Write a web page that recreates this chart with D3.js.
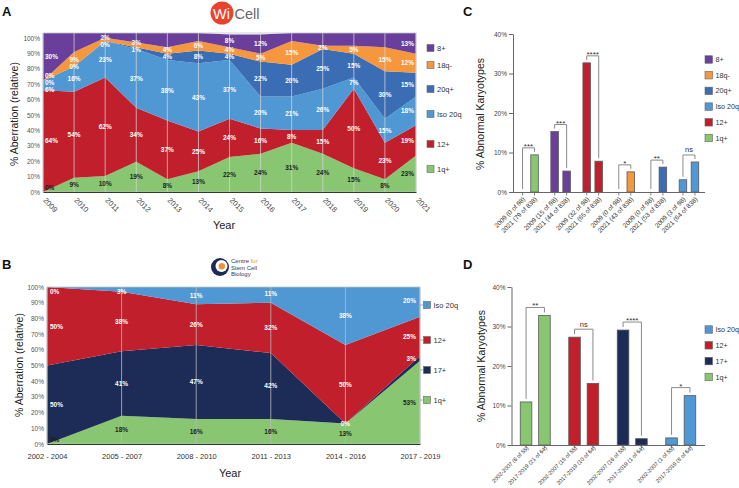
<!DOCTYPE html>
<html><head><meta charset="utf-8">
<script src="https://cdn.jsdelivr.net/npm/d3@7"></script>
<style>
body{margin:0;background:#fff}
svg{font-family:"Liberation Sans",Arial,sans-serif;display:block}
</style>
</head><body>
<svg id="c" width="739" height="488"></svg>
<script>
// ---------- DATA ----------
const yearsA = ["2009","2010","2011","2012","2013","2014","2015","2016","2017","2018","2019","2020","2021"];
const seriesA = ["1q+","12+","Iso 20q","20q+","18q-","8+"];
const a1q  = [0, 9,10,19, 8,13,22,24,31,24,15, 8,23];
const a12  = [64,54,62,34,37,25,24,16, 8,15,50,23,19];
const aIso = [6,16,23,37,38,43,37,20,21,26, 7,15,18];
const a20q = [0, 0, 0, 1, 4, 8, 4,22,20,25,15,30,15];
const a18q = [0, 9, 2, 3, 4, 6, 4, 5,15, 2, 5,15,12];
const a8   = [30,12, 3, 6, 9, 5, 8,12, 5, 8, 8, 9,13];
// 8+ value labels printed in the reference (others left blank there)
const a8Labels = ["30%","","","","","","8%","12%","","","","","13%"];
const legendA = ["8+","18q-","20q+","Iso 20q","12+","1q+"];

const periodsB = ["2002 - 2004","2005 - 2007","2008 - 2010","2011 - 2013","2014 - 2016","2017 - 2019"];
const seriesB = ["1q+","17+","12+","Iso 20q"];
const b1q  = [0,18,16,16,13,53];
const b17  = [50,41,47,42,0,3];
const b12  = [50,38,26,32,50,25];
const bIso = [0,3,11,11,38,20];
const legendB = ["Iso 20q","12+","17+","1q+"];

const groupsC = ["1q+","8+","12+","18q-","20q+","Iso 20q"];
const c2009 = [0,15.3,32.7,0,0,3.1];
const c2021 = [9.4,5.3,7.8,5.1,6.3,7.6];
const c2009n = [0,15,32,0,0,3];
const c2021n = [79,44,65,43,53,64];
const sigC = ["***","***","****","*","**","ns"];
const ticksCD = [0,10,20,30,40];
const legendC = ["8+","18q-","20q+","Iso 20q","12+","1q+"];

const groupsD = ["1q+","12+","17+","Iso 20q"];
const d0207 = [10.9,27.3,29.1,1.8];
const d1719 = [32.8,15.6,1.6,12.5];
const d0207n = [6,15,16,1];
const d1719n = [21,10,1,8];
const sigD = ["**","ns","****","*"];
const legendD = ["Iso 20q","12+","17+","1q+"];

const colors = {"8+":"#6a3f9c","18q-":"#f6963d","20q+":"#3b6db5","Iso 20q":"#4f98d4","12+":"#c11f2b","1q+":"#88c672","17+":"#1d2b57"};

// ---------- DRAW ----------
const svg = d3.select("#c");

function stackedPanel(cfg){
  const g = svg.append("g");
  const x = d3.scalePoint().domain(cfg.cats).range([cfg.x0,cfg.x1]);
  const y = d3.scaleLinear().domain([0,100]).range([cfg.y0,cfg.y1]);
  const rows = cfg.cats.map((c,i)=>{const r={cat:c}; cfg.keys.forEach((k,j)=>r[k]=cfg.vals[j][i]); return r;});
  const st = d3.stack().keys(cfg.keys)(rows);
  const cid = "clip"+cfg.id;
  svg.append("clipPath").attr("id",cid).append("rect")
    .attr("x",cfg.x0).attr("y",cfg.y1).attr("width",cfg.x1-cfg.x0).attr("height",cfg.y0-cfg.y1);
  const ar = d3.area().x(d=>x(d.data.cat)).y0(d=>y(d[0])).y1(d=>y(d[1]));
  g.append("g").attr("clip-path",`url(#${cid})`).selectAll("path").data(st).join("path")
    .attr("d",ar).attr("fill",d=>colors[d.key]);
  g.selectAll("line.grid").data(cfg.cats).join("line").attr("class","grid")
    .attr("x1",d=>x(d)).attr("x2",d=>x(d)).attr("y1",cfg.y1).attr("y2",cfg.y0)
    .attr("stroke",cfg.grid).attr("stroke-width",0.9);
  g.append("rect").attr("x",cfg.x0).attr("y",cfg.y1).attr("width",cfg.x1-cfg.x0).attr("height",cfg.y0-cfg.y1)
    .attr("fill","none").attr("stroke","#c4c4c4").attr("stroke-width",0.8);
  const n = cfg.cats.length;
  const labels = [];
  st.forEach((layer,li)=>layer.forEach((d,i)=>{
    const txt = cfg.labelText(layer.key,i,d.data[layer.key]);
    if(!txt) return;
    labels.push({i,li,key:layer.key,txt,y:y((d[0]+d[1])/2)});
  }));
  const gap = 7;
  d3.group(labels,d=>d.i).forEach(arr=>{
    arr.sort((a,b)=>(a.y-b.y)||(b.li-a.li));
    for(let it=0;it<40;it++){
      for(let k=0;k<arr.length-1;k++){
        const diff = arr[k+1].y-arr[k].y;
        if(diff<gap){const s=(gap-diff)/2; arr[k].y-=s; arr[k+1].y+=s;}
      }
      arr.forEach(a=>a.y=Math.max(cfg.y1+4.5,Math.min(cfg.y0-4,a.y)));
    }
  });
  g.selectAll("text.vl").data(labels).join("text").attr("class","vl")
    .attr("x",d=>x(cfg.cats[d.i])+(d.i===0?cfg.dxs:(d.i===n-1?cfg.dxe:0)))
    .attr("y",d=>d.y).attr("dy","0.35em")
    .attr("text-anchor",d=>d.i===0?"start":(d.i===n-1?"end":"middle"))
    .attr("font-size",6.5).attr("font-weight","bold")
    .attr("fill",d=>d.key==="1q+"?"#1e1e1e":"#ffffff").text(d=>d.txt);
  const ya = y.copy().range([cfg.y0,cfg.yTickTop]);
  const gy = g.append("g").attr("transform",`translate(${cfg.x0},0)`)
    .call(d3.axisLeft(ya).tickValues(d3.range(0,101,10)).tickFormat(d=>d+"%").tickSize(0).tickPadding(3));
  gy.select(".domain").remove();
  gy.selectAll("text").attr("font-size",6.5).attr("fill","#555").attr("font-family","Liberation Sans, Arial, sans-serif");
  const gx = g.append("g").attr("transform",`translate(0,${cfg.y0})`)
    .call(d3.axisBottom(x).tickSize(0).tickSizeOuter(0));
  gx.select(".domain").attr("stroke","#2f3a2f").attr("stroke-width",1.2);
  gx.selectAll("text").attr("font-family","Liberation Sans, Arial, sans-serif").attr("fill","#444");
  cfg.xText(gx.selectAll("text"));
  return {g,x,y};
}

stackedPanel({id:"A",cats:yearsA,keys:seriesA,vals:[a1q,a12,aIso,a20q,a18q,a8],
  labelText:(k,i,v)=>k==="8+"?a8Labels[i]:v+"%",
  x0:43,x1:416,y0:192,y1:33,yTickTop:38,grid:"rgba(215,215,215,0.8)",dxs:2,dxe:-2,
  xText:s=>s.attr("y",0).attr("dy","0.35em").attr("font-size",7.5).attr("text-anchor","start")
    .attr("transform","translate(1,7) rotate(45)")});
stackedPanel({id:"B",cats:periodsB,keys:seriesB,vals:[b1q,b17,b12,bIso],
  labelText:(k,i,v)=>v+"%",
  x0:47,x1:420,y0:444,y1:287,yTickTop:287,grid:"rgba(185,185,185,0.9)",dxs:3,dxe:-4,
  xText:s=>s.attr("y",12).attr("dy","0.35em").attr("font-size",7.5).attr("fill","#333")});

function legend(items, ys, x, size, fs){
  const g = svg.append("g");
  items.forEach((k,i)=>{
    g.append("rect").attr("x",x).attr("y",ys[i]-size/2).attr("width",size).attr("height",size)
      .attr("fill",colors[k]).attr("stroke","#666").attr("stroke-width",0.6);
    g.append("text").attr("x",x+size+3).attr("y",ys[i]).attr("dy","0.35em")
      .attr("font-size",fs).attr("fill","#333").text(k);
  });
}
legend(legendA,[48,65,89,114,144,169],427,7,7.5);
legend(legendB,[305,340,370,400],423.5,7,7.5);
[305,340,370,400].forEach(v=>svg.append("line").attr("x1",420).attr("x2",423).attr("y1",v).attr("y2",v).attr("stroke","#999").attr("stroke-width",0.8));

function text(x,y,t,opt){
  const s = svg.append("text").attr("x",x).attr("y",y).text(t);
  Object.entries(opt||{}).forEach(([k,v])=>s.attr(k,v));
  return s;
}
text(0,0,"% Aberration (relative)",{"font-size":10.5,fill:"#222","text-anchor":"middle",transform:"translate(18,114) rotate(-90)"});
text(0,0,"% Aberration (relative)",{"font-size":10.5,fill:"#222","text-anchor":"middle",transform:"translate(23,365) rotate(-90)"});
text(224,229,"Year",{"font-size":11,fill:"#222","text-anchor":"middle"});
text(230,477,"Year",{"font-size":11,fill:"#222","text-anchor":"middle"});
text(0,0,"% Abnormal Karyotypes",{"font-size":10.5,fill:"#222","text-anchor":"middle",transform:"translate(484,114) rotate(-90)"});
text(0,0,"% Abnormal Karyotypes",{"font-size":10.5,fill:"#222","text-anchor":"middle",transform:"translate(485,366) rotate(-90)"});
text(2,16,"A",{"font-size":13,"font-weight":"bold",fill:"#111"});
text(2,269,"B",{"font-size":13,"font-weight":"bold",fill:"#111"});
text(463,16,"C",{"font-size":13,"font-weight":"bold",fill:"#111"});
text(463,269,"D",{"font-size":13,"font-weight":"bold",fill:"#111"});

svg.append("circle").attr("cx",222).attr("cy",13).attr("r",11.5).attr("fill","#e9432f");
text(213,18.5,"Wi",{"font-size":14.5,fill:"#fff","font-weight":300});
text(234.5,18.5,"Cell",{"font-size":14.5,fill:"#666","font-weight":300});
svg.append("circle").attr("cx",220).attr("cy",267).attr("r",9).attr("fill","#1d2b57");
svg.append("circle").attr("cx",221.5).attr("cy",266).attr("r",6).attr("fill","#fff");
svg.append("circle").attr("cx",221.8).attr("cy",266.2).attr("r",3.2).attr("fill","#f0913a");
const lt = svg.append("text").attr("x",231).attr("y",263).attr("font-size",6).attr("fill","#2b3a67");
lt.append("tspan").text("Centre ");
lt.append("tspan").attr("fill","#f0913a").text("for");
text(231,269.5,"Stem Cell",{"font-size":6,fill:"#2b3a67"});
text(231,276,"Biology",{"font-size":6,fill:"#2b3a67"});

function barPanel(cfg){
  const g = svg.append("g");
  const x0 = d3.scaleBand().domain(cfg.groups).range([cfg.xa,cfg.xb]);
  const x1 = d3.scaleBand().domain([0,1]).range([-cfg.half,cfg.half]).paddingInner(0.37).paddingOuter(0.185);
  const y = d3.scaleLinear().domain([0,40]).range([cfg.y0,cfg.y1]);
  const bars = [];
  cfg.groups.forEach((grp,i)=>{
    cfg.vals.forEach((arr,j)=>{
      const cx = x0(grp)+x0.bandwidth()/2 + x1(j) + x1.bandwidth()/2;
      bars.push({grp,j,i,v:arr[i],cx,lab:`${cfg.periods[j]} (${cfg.counts[j][i]} of ${cfg.totals[j]})`});
    });
  });
  const bw = x1.bandwidth();
  g.selectAll("rect.bar").data(bars.filter(d=>d.v>0)).join("rect").attr("class","bar")
    .attr("x",d=>d.cx-bw/2).attr("width",bw).attr("y",d=>y(d.v)).attr("height",d=>y(0)-y(d.v))
    .attr("fill",d=>colors[d.grp]).attr("stroke","#5a5a5a").attr("stroke-width",0.8);
  const gy = g.append("g").attr("transform",`translate(${cfg.xa+0.5},0)`)
    .call(d3.axisLeft(y).tickValues(ticksCD).tickFormat(d=>d+"%").tickSize(4).tickSizeOuter(0).tickPadding(2));
  gy.selectAll("path,line").attr("stroke","#666");
  gy.selectAll("text").attr("font-size",6.5).attr("fill","#444").attr("font-family","Liberation Sans, Arial, sans-serif");
  const gx = g.append("g").attr("transform",`translate(0,${cfg.y0})`);
  gx.append("line").attr("x1",cfg.xa).attr("x2",cfg.xb).attr("y1",0.5).attr("y2",0.5).attr("stroke","#666").attr("stroke-width",1);
  gx.selectAll("line.tk").data(bars).join("line").attr("class","tk").attr("x1",d=>d.cx).attr("x2",d=>d.cx)
    .attr("y1",0.5).attr("y2",3.5).attr("stroke","#666").attr("stroke-width",0.8);
  gx.selectAll("text").data(bars).join("text").attr("text-anchor","end").attr("dy","0.35em")
    .attr("transform",d=>`translate(${d.cx+1.5},${cfg.labOff}) rotate(-45)`)
    .attr("font-size",cfg.labSize).attr("fill","#333").text(d=>d.lab);
  cfg.groups.forEach((grp,i)=>{
    const a = bars.find(d=>d.i===i&&d.j===0), b = bars.find(d=>d.i===i&&d.j===1);
    const ya = y(a.v)-3, yb2 = y(b.v)-3;
    const top = Math.min(y(a.v),y(b.v))-cfg.brOff;
    g.append("path").attr("d",`M${a.cx},${ya}V${top}H${b.cx}V${yb2}`)
      .attr("fill","none").attr("stroke","#8a8a8a").attr("stroke-width",1);
    const s = cfg.sig[i];
    g.append("text").attr("x",(a.cx+b.cx)/2).attr("y",s==="ns"?top-2.5:top+1)
      .attr("text-anchor","middle").attr("font-size",s==="ns"?7.5:8).attr("fill","#333").text(s);
  });
}
barPanel({groups:groupsC,vals:[c2009,c2021],counts:[c2009n,c2021n],totals:[98,838],periods:["2009","2021"],sig:sigC,
  xa:512.5,xb:705,half:12,y0:192,y1:34,labOff:6,labSize:6.5,brOff:7});
barPanel({groups:groupsD,vals:[d0207,d1719],counts:[d0207n,d1719n],totals:[55,64],periods:["2002-2007","2017-2019"],sig:sigD,
  xa:511,xb:705,half:18.4,y0:445,y1:287,labOff:2,labSize:5.6,brOff:8});
legend(legendC,[59.5,75.2,90.9,106.6,122.3,138],705,7.5,7.2);
legend(legendD,[329.5,345.3,361.1,377],705,7.5,7.2);
</script>
</body></html>
